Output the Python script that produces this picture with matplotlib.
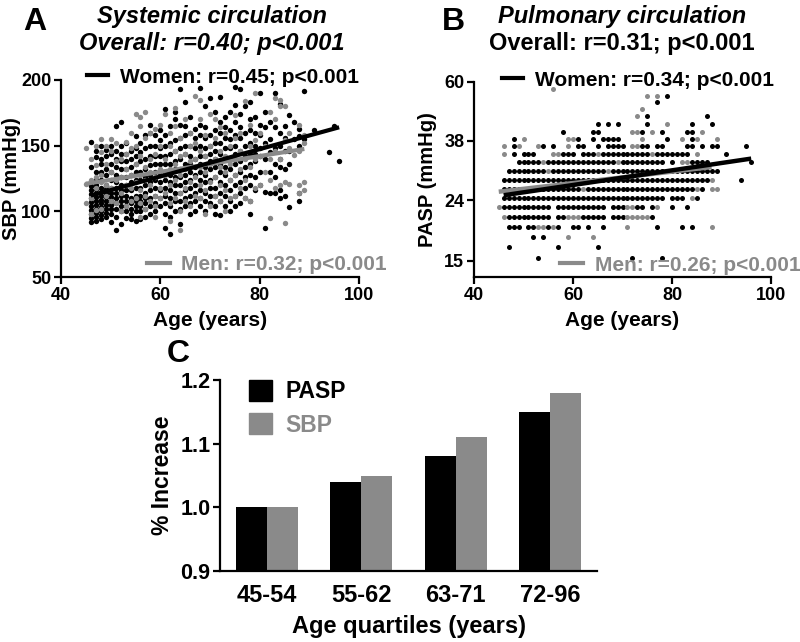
import matplotlib
matplotlib.use("Agg")
import matplotlib.pyplot as plt
from matplotlib.lines import Line2D
from matplotlib.patches import Patch

plt.rcParams['font.family'] = ['Liberation Sans', 'DejaVu Sans']
plt.rcParams['font.weight'] = 'bold'

BLACK = '#000000'
GREY = '#8a8a8a'

# ---------------- Panel A data: SBP by age (integer ages) ----------------
ages_A = [45, 46, 47, 48, 49, 50, 51, 52, 53, 54, 55, 56, 57, 58, 59, 60,
          61, 62, 63, 64, 65, 66, 67, 68, 69, 70, 71, 72, 73, 74, 75, 76,
          77, 78, 79, 80, 81, 82, 83, 84, 85, 86, 87, 88, 89, 91, 94, 95, 96]
women_sbp = [
    [],
    [92, 95, 98, 101, 104, 107, 110, 113, 116, 119, 122, 134, 153],
    [93, 96, 99, 102, 105, 108, 111, 114, 117, 120, 124, 130, 141, 146],
    [94, 97, 100, 103, 106, 109, 112, 115, 118, 124, 130, 136, 140, 150],
    [96, 99, 102, 105, 108, 111, 114, 117, 120, 128, 132, 142, 147],
    [92, 98, 102, 105, 108, 111, 114, 118, 124, 130, 136, 144, 150],
    [86, 96, 102, 106, 110, 114, 118, 122, 128, 134, 140, 146, 165],
    [90, 100, 104, 108, 112, 116, 120, 126, 132, 138, 144, 150, 168],
    [95, 100, 104, 108, 112, 116, 120, 126, 132, 138, 144, 152],
    [94, 98, 102, 106, 110, 116, 122, 128, 134, 140, 146],
    [93, 100, 104, 108, 112, 118, 124, 130, 136, 142, 148, 157],
    [94, 100, 104, 108, 112, 118, 124, 130, 138, 145, 152],
    [96, 102, 106, 110, 114, 120, 126, 132, 140, 148, 158],
    [98, 104, 110, 116, 122, 128, 135, 142, 150, 160, 166],
    [100, 106, 112, 118, 124, 130, 136, 142, 150, 158],
    [104, 110, 116, 122, 128, 136, 142, 148, 154, 162],
    [87, 98, 106, 112, 118, 124, 130, 136, 142, 150, 158, 178],
    [83, 96, 104, 110, 116, 122, 128, 136, 144, 152, 165],
    [100, 108, 114, 120, 126, 132, 138, 146, 154, 170, 176],
    [90, 102, 108, 114, 120, 126, 132, 140, 148, 156, 166, 193],
    [104, 110, 116, 122, 128, 136, 144, 150, 158, 165, 183],
    [98, 106, 112, 118, 124, 130, 136, 142, 150, 160, 172],
    [100, 108, 114, 120, 128, 134, 140, 148, 156, 163],
    [104, 110, 116, 124, 130, 136, 142, 150, 158, 166, 194],
    [100, 108, 114, 122, 128, 134, 142, 148, 156, 164, 180],
    [106, 112, 118, 124, 132, 138, 144, 150, 158, 186],
    [98, 104, 112, 118, 126, 134, 140, 146, 152, 162, 176],
    [97, 108, 114, 122, 130, 136, 144, 152, 160, 168, 187],
    [104, 112, 120, 128, 134, 140, 148, 156, 164, 172],
    [100, 108, 116, 124, 132, 140, 148, 155, 162, 176],
    [104, 112, 120, 128, 136, 144, 150, 158, 168, 181, 195],
    [106, 114, 122, 130, 138, 146, 156, 164, 174, 193],
    [110, 118, 126, 134, 142, 150, 160, 180],
    [98, 108, 120, 128, 136, 144, 152, 162, 170, 183],
    [116, 126, 138, 144, 150, 160, 172],
    [120, 130, 142, 148, 158, 166, 190],
    [87, 115, 140, 152, 164, 176],
    [114, 130, 145, 155, 168],
    [114, 126, 136, 148, 164, 190],
    [110, 116, 134, 140, 150, 160, 182],
    [112, 132, 146, 156, 165],
    [103, 136, 146, 173],
    [155, 168],
    [108, 114, 150, 157, 163],
    [155, 192],
    [162],
    [145],
    [165],
    [138],
]
men_sbp = [
    [106, 121, 148],
    [98, 110, 124, 140],
    [101, 118, 126, 135, 150],
    [102, 122, 128, 145, 155],
    [112, 120, 136, 150],
    [108, 118, 130, 146, 155],
    [106, 124, 138, 152],
    [100, 114, 126, 140],
    [104, 120, 132, 144, 153],
    [108, 118, 128, 148, 160],
    [110, 122, 136, 150, 174],
    [96, 106, 116, 128, 142, 165, 172],
    [102, 112, 124, 134, 156, 176],
    [108, 120, 130, 140, 160],
    [96, 104, 112, 126, 144, 163],
    [110, 118, 132, 150, 166],
    [114, 128, 140, 174],
    [93, 106, 120, 132, 150, 160],
    [110, 124, 136, 146, 165, 179],
    [86, 100, 114, 128, 142, 156],
    [108, 118, 132, 144, 170],
    [104, 122, 138, 150, 160],
    [112, 126, 140, 152, 188],
    [110, 120, 134, 146, 170, 185],
    [98, 116, 130, 142, 158],
    [104, 122, 136, 150, 174],
    [112, 126, 140, 156, 170],
    [108, 120, 134, 146, 164],
    [100, 116, 130, 142, 160],
    [110, 124, 136, 150],
    [112, 128, 140, 156, 173],
    [118, 132, 146, 160],
    [110, 124, 140, 184],
    [108, 134, 150, 166],
    [118, 140, 154, 190],
    [120, 142, 160],
    [130, 150],
    [95, 124, 140, 176],
    [118, 146, 170, 186],
    [120, 140, 180, 185],
    [91, 122, 154, 180],
    [121, 148, 160],
    [143],
    [114, 120, 146, 166],
    [116, 122, 152, 158],
    [], [], [], [],
]
# regression lines (end points)
women_fit_A_age = [46, 96]
women_fit_A_sbp = [112, 164]
men_fit_A_age = [45, 89]
men_fit_A_sbp = [121, 147.5]

# ---------------- Panel B data: PASP levels (rows) and ages ----------------
pasp_levels = [15.3, 16.6, 18.0, 19.5, 21.0, 22.7, 24.4, 26.2, 28.0, 30.0,
               32.2, 34.3, 36.4, 38.6, 40.8, 43.3, 45.9, 48.6, 51.2, 53.9, 57.0]
women_pasp_ages = [
    [53, 72, 78],
    [47, 57, 65],
    [52, 54],
    [47, 48, 49, 51, 52, 55, 57, 60, 61, 63, 66, 77, 82, 84],
    [47, 48, 49, 50, 51, 52, 53, 54, 55, 57, 58, 62, 63, 64, 65, 66, 68, 69, 70, 76],
    [46, 47, 48, 49, 50, 51, 52, 53, 54, 55, 57, 58, 59, 60, 61, 62, 63, 64, 65, 66,
     68, 69, 70, 73, 74, 76, 80, 83],
    [46, 47, 48, 49, 50, 51, 52, 53, 54, 55, 56, 57, 58, 59, 60, 61, 62, 63, 64, 65,
     66, 67, 68, 69, 70, 71, 72, 73, 74, 75, 76, 77, 78, 80, 81, 82, 85],
    [46, 47, 48, 49, 50, 51, 52, 53, 54, 55, 56, 57, 58, 59, 60, 61, 63, 64, 65, 66,
     67, 68, 69, 70, 71, 72, 73, 74, 75, 76, 77, 78, 79, 80, 81, 82, 83, 84, 86],
    [46, 47, 48, 49, 50, 51, 52, 53, 54, 55, 56, 57, 58, 59, 60, 61, 62, 63, 64, 65,
     66, 67, 68, 69, 70, 71, 72, 73, 74, 75, 76, 77, 78, 79, 80, 81, 82, 83, 84, 85,
     86, 87, 94],
    [47, 48, 49, 50, 51, 52, 53, 54, 56, 57, 58, 59, 60, 61, 62, 63, 64, 65, 66, 68,
     69, 70, 71, 72, 73, 74, 75, 76, 77, 78, 79, 80, 81, 82, 83, 84, 85, 86, 87, 88, 89],
    [49, 50, 51, 52, 53, 55, 56, 57, 58, 59, 60, 61, 62, 63, 64, 65, 66, 67, 68, 70,
     71, 72, 73, 74, 75, 76, 77, 78, 80, 84, 85, 86, 87, 96],
    [48, 50, 51, 52, 58, 59, 60, 62, 63, 64, 66, 67, 68, 69, 70, 71, 72, 73, 74, 75,
     77, 78, 79, 80, 81, 82, 83, 91],
    [48, 54, 56, 61, 62, 65, 67, 68, 69, 70, 74, 75, 77, 78, 83, 84, 86, 88, 89, 95],
    [48, 61, 64, 66, 67, 68, 69, 79, 84],
    [58, 64, 65, 74, 78, 83, 84],
    [65, 67, 69, 75, 84, 88],
    [75, 87],
    [],
    [77],
    [79],
    [],
]
men_pasp_ages = [
    [], [], [59, 64],
    [53, 54, 56, 71, 88],
    [46, 59, 60, 61, 71, 72, 73, 74, 75],
    [45, 71, 72, 77],
    [84],
    [62, 85, 88, 89],
    [88],
    [55, 67],
    [54, 69, 82, 83],
    [46, 56, 57, 65, 76, 85],
    [46, 49, 53, 59, 72, 73],
    [50, 59, 60, 74, 82, 85, 89],
    [72, 73, 76, 86],
    [79],
    [73],
    [74],
    [],
    [75, 77],
    [56],
]
women_fit_B_age = [46, 96]
women_fit_B_pasp = [24.9, 33.1]
men_fit_B_age = [45, 88]
men_fit_B_pasp = [25.6, 31.0]

# ---------------- Panel C data ----------------
quartiles = ['45-54', '55-62', '63-71', '72-96']
pasp_increase = [1.00, 1.04, 1.08, 1.15]
sbp_increase = [1.00, 1.05, 1.11, 1.18]


def flatten(xs, ys_lists):
    xx, yy = [], []
    for x, ys in zip(xs, ys_lists):
        for y in ys:
            xx.append(x)
            yy.append(y)
    return xx, yy


def flatten_rows(levels, age_lists):
    xx, yy = [], []
    for lv, ages in zip(levels, age_lists):
        for a in ages:
            xx.append(a)
            yy.append(lv)
    return xx, yy


fig = plt.figure(figsize=(8.0, 6.42), dpi=100)

axA = fig.add_axes([61/800, 1-277/642, 298/800, 197/642])
axB = fig.add_axes([474/800, 1-277/642, 297/800, 195/642])
axC = fig.add_axes([220/800, 1-571/642, 377/800, 191/642])

TICK_FS = 13
LAB_FS = 15
MS_A = 15
MS_B = 13

def style_axis(ax, fs):
    for s in ['top', 'right']:
        ax.spines[s].set_visible(False)
    for s in ['left', 'bottom']:
        ax.spines[s].set_linewidth(1.6)
    ax.tick_params(axis='both', which='major', direction='out', length=5,
                   width=1.6, labelsize=fs, pad=2)
    for lab in ax.get_xticklabels() + ax.get_yticklabels():
        lab.set_fontweight('bold')

# ---- Panel A ----
wx, wy = flatten(ages_A, women_sbp)
mx, my = flatten(ages_A, men_sbp)
axA.scatter(wx, wy, s=MS_A, c=BLACK, linewidths=0, zorder=2, clip_on=False)
axA.scatter(mx, my, s=MS_A, c=GREY, linewidths=0, zorder=2.1, clip_on=False)
axA.plot(men_fit_A_age, men_fit_A_sbp, color=GREY, lw=3, zorder=3, solid_capstyle='butt')
axA.plot(women_fit_A_age, women_fit_A_sbp, color=BLACK, lw=3, zorder=4, solid_capstyle='butt')
axA.set_xlim(40, 100)
axA.set_ylim(50, 200)
axA.set_xticks([40, 60, 80, 100])
axA.set_yticks([50, 100, 150, 200])
style_axis(axA, TICK_FS)
axA.set_xlabel('Age (years)', fontsize=LAB_FS, fontweight='bold', labelpad=5)
axA.set_ylabel('SBP (mmHg)', fontsize=14.5, fontweight='bold')
axA.yaxis.set_label_coords(-0.135, 0.5)

legA1 = axA.legend(handles=[Line2D([], [], color=BLACK, lw=3)],
                   labels=['Women: r=0.45; p<0.001'], loc='center left',
                   bbox_to_anchor=(0.087, 1.015), frameon=False, borderpad=0,
                   borderaxespad=0, handlelength=1.0, handletextpad=0.6,
                   prop={'size': LAB_FS, 'weight': 'bold'})
axA.add_artist(legA1)
legA2 = axA.legend(handles=[Line2D([], [], color=GREY, lw=3)],
                   labels=['Men: r=0.32; p<0.001'], loc='center left',
                   bbox_to_anchor=(0.289, 0.061), frameon=False, borderpad=0,
                   borderaxespad=0, handlelength=1.1, handletextpad=0.55,
                   prop={'size': LAB_FS, 'weight': 'bold'}, labelcolor=GREY)

# ---- Panel B ----
wx, wy = flatten_rows(pasp_levels, women_pasp_ages)
mx, my = flatten_rows(pasp_levels, men_pasp_ages)
axB.scatter(wx, wy, s=MS_B, c=BLACK, linewidths=0, zorder=2, clip_on=False)
axB.scatter(mx, my, s=MS_B, c=GREY, linewidths=0, zorder=2.1, clip_on=False)
axB.plot(men_fit_B_age, men_fit_B_pasp, color=GREY, lw=3.2, zorder=3, solid_capstyle='butt')
axB.plot(women_fit_B_age, women_fit_B_pasp, color=BLACK, lw=3.2, zorder=4, solid_capstyle='butt')
axB.set_yscale('log')
axB.set_xlim(40, 100)
axB.set_ylim(13.2, 60)
axB.set_xticks([40, 60, 80, 100])
axB.set_yticks([15, 24, 38, 60])
axB.set_yticklabels(['15', '24', '38', '60'])
axB.minorticks_off()
style_axis(axB, TICK_FS)
axB.set_xlabel('Age (years)', fontsize=LAB_FS, fontweight='bold', labelpad=5)
axB.set_ylabel('PASP (mmHg)', fontsize=14.5, fontweight='bold')
axB.yaxis.set_label_coords(-0.125, 0.5)

legB1 = axB.legend(handles=[Line2D([], [], color=BLACK, lw=3)],
                   labels=['Women: r=0.34; p<0.001'], loc='center left',
                   bbox_to_anchor=(0.094, 1.010), frameon=False, borderpad=0,
                   borderaxespad=0, handlelength=1.0, handletextpad=0.6,
                   prop={'size': LAB_FS, 'weight': 'bold'})
axB.add_artist(legB1)
legB2 = axB.legend(handles=[Line2D([], [], color=GREY, lw=3)],
                   labels=['Men: r=0.26; p<0.001'], loc='center left',
                   bbox_to_anchor=(0.29, 0.0615), frameon=False, borderpad=0,
                   borderaxespad=0, handlelength=1.1, handletextpad=0.55,
                   prop={'size': LAB_FS, 'weight': 'bold'}, labelcolor=GREY)

# ---- Panel C ----
xpos = list(range(len(quartiles)))
bw = 0.33
axC.bar([x - bw/2 for x in xpos], [v - 0.9 for v in pasp_increase], bottom=0.9,
        width=bw, color=BLACK, label='PASP', zorder=2)
axC.bar([x + bw/2 for x in xpos], [v - 0.9 for v in sbp_increase], bottom=0.9,
        width=bw, color=GREY, label='SBP', zorder=2)
axC.set_xlim(-0.5, 3.5)
axC.set_ylim(0.9, 1.2)
axC.set_yticks([0.9, 1.0, 1.1, 1.2])
axC.set_yticklabels(['0.9', '1.0', '1.1', '1.2'])
axC.set_xticks(xpos)
axC.set_xticklabels(quartiles)
style_axis(axC, 15.5)
axC.tick_params(axis='x', length=0, pad=9, labelsize=17)
for lab in axC.get_xticklabels():
    lab.set_fontweight('bold')
axC.set_xlabel('Age quartiles (years)', fontsize=17, fontweight='bold', labelpad=6)
axC.set_ylabel('% Increase', fontsize=16.5, fontweight='bold')
axC.yaxis.set_label_coords(-0.122, 0.5)
axC.legend(handles=[Patch(color=BLACK), Patch(color=GREY)], labels=['PASP', 'SBP'],
           loc='upper left', bbox_to_anchor=(0.077, 1.0), frameon=False,
           borderpad=0, borderaxespad=0, handlelength=1.0, handleheight=1.0,
           handletextpad=0.6, labelspacing=0.45,
           prop={'size': 16.5, 'weight': 'bold'}, labelcolor=[BLACK, GREY])

# ---- Titles and panel letters ----
fig.text(212/800, 1-23.3/642, 'Systemic circulation', ha='center', va='baseline',
         fontsize=17, fontweight='bold', fontstyle='italic')
fig.text(212/800, 1-50/642, 'Overall: r=0.40; p<0.001', ha='center', va='baseline',
         fontsize=17, fontweight='bold', fontstyle='italic')
fig.text(622/800, 1-23.3/642, 'Pulmonary circulation', ha='center', va='baseline',
         fontsize=17, fontweight='bold', fontstyle='italic')
fig.text(622/800, 1-50/642, 'Overall: r=0.31; p<0.001', ha='center', va='baseline',
         fontsize=17, fontweight='bold')
fig.text(23/800, 1-30/642, 'A', ha='left', va='baseline', fontsize=23, fontweight='bold')
fig.text(442/800, 1-30/642, 'B', ha='left', va='baseline', fontsize=23, fontweight='bold')
fig.text(167/800, 1-362/642, 'C', ha='left', va='baseline', fontsize=23, fontweight='bold')

fig.savefig('out.png', dpi=100)
